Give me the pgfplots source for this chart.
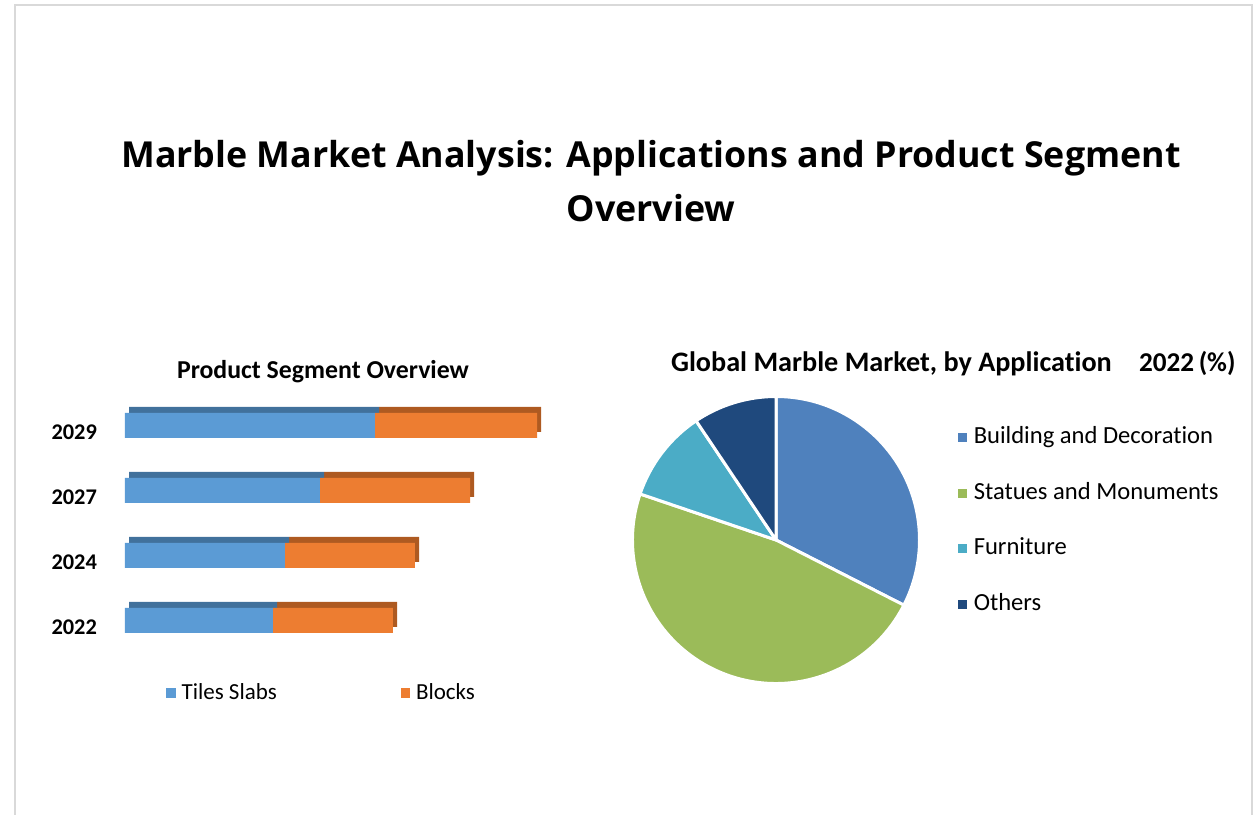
\documentclass[border=0pt]{standalone}
\usepackage{pgfplots}
\pgfplotsset{compat=1.18}
\usepackage{pgfplotstable}
\usepackage{fontspec}
\setmainfont[Ligatures=NoCommon]{Carlito}
\newfontfamily\titlefont[Ligatures=NoCommon]{Open Sans}

\definecolor{tiles}{HTML}{5B9BD5}
\definecolor{tilesdark}{HTML}{41719C}
\definecolor{blocks}{HTML}{ED7D31}
\definecolor{blocksdark}{HTML}{AE5A21}
\definecolor{building}{HTML}{4F81BD}
\definecolor{statues}{HTML}{9BBB59}
\definecolor{furniture}{HTML}{4BACC6}
\definecolor{others}{HTML}{1F497D}
\definecolor{frame}{HTML}{D9D9D9}

% product segment (arbitrary units)
\pgfplotstableread{
pos year tiles blocks
0 2022 148 120
1 2024 160 130
2 2027 195 150
3 2029 250 162
}\segdata

% application shares 2022 (%)
\pgfplotstableread{
app share
Building 32.5
Statues 47.7
Furniture 10.4
Others 9.4
}\piedata

\begin{document}
\begin{tikzpicture}
\useasboundingbox (0,0) rectangle (627.5pt,407.5pt);
\draw[frame, line width=0.8pt] (7.5pt,-5pt) rectangle (626pt,405pt);

\node[anchor=base, font=\titlefont\bfseries\fontsize{17.9}{21}\selectfont] at (325.5pt,323.5pt)
  {Marble Market Analysis: Applications and Product Segment};
\node[anchor=base, font=\titlefont\bfseries\fontsize{17.9}{21}\selectfont] at (325.5pt,296.5pt)
  {Overview};

% 3D top/side faces behind the bars
\begin{axis}[
  at={(62.5pt,97.25pt)}, anchor=origin,
  x=0.5pt, y=32.5pt,
  xmin=0, xmax=450, ymin=-0.5, ymax=3.5,
  hide axis,
  xbar stacked, bar width=12.5pt, bar shift=3pt,
]
\addplot[draw=none, fill=none] table[x expr=4, y=pos] {\segdata};
\addplot[draw=none, fill=tilesdark] table[x=tiles, y=pos] {\segdata};
\addplot[draw=none, fill=blocksdark] table[x=blocks, y=pos] {\segdata};
\end{axis}

\begin{axis}[
  at={(62.5pt,97.25pt)}, anchor=origin,
  x=0.5pt, y=32.5pt,
  xmin=0, xmax=450, ymin=-0.5, ymax=3.5,
  axis line style={draw=none},
  xtick=\empty,
  ytick=data, yticklabels from table={\segdata}{year},
  major tick length=0pt,
  yticklabel style={font=\bfseries\fontsize{11.2}{13}\selectfont, anchor=east, xshift=-10.5pt, yshift=-3.5pt},
  xbar stacked, bar width=12.5pt, bar shift=0pt,
  title={\bfseries Product Segment Overview},
  title style={font=\fontsize{12.9}{15}\selectfont, at={(0.44,1)}, anchor=base, yshift=1pt},
  legend columns=2,
  legend style={at={(0.0911,-0.154)}, anchor=west, draw=none, fill=none,
    font=\fontsize{11.5}{13}\selectfont, inner sep=0pt,
    nodes={inner sep=0pt},
    column sep=3pt,
    /tikz/every even column/.append style={column sep=62pt}},
  legend image code/.code={\fill[#1] (0pt,-2.3pt) rectangle (4.6pt,2.3pt);},
]
\addplot[draw=none, fill=tiles] table[x=tiles, y=pos] {\segdata};
\addplot[draw=none, fill=blocks] table[x=blocks, y=pos] {\segdata};
\legend{Tiles Slabs, Blocks}
\end{axis}

% pie angles from the shares
\pgfplotstablegetelem{0}{share}\of\piedata \let\sA\pgfplotsretval
\pgfplotstablegetelem{1}{share}\of\piedata \let\sB\pgfplotsretval
\pgfplotstablegetelem{2}{share}\of\piedata \let\sC\pgfplotsretval
\pgfplotstablegetelem{3}{share}\of\piedata \let\sD\pgfplotsretval
\pgfmathsetmacro\aA{90-3.6*\sA}
\pgfmathsetmacro\aB{\aA-3.6*\sB}
\pgfmathsetmacro\aC{\aB-3.6*\sC}
\pgfmathsetmacro\aD{\aC-3.6*\sD}

\begin{axis}[
  at={(388pt,137.5pt)}, anchor=origin,
  x=71.75pt, y=71.75pt,
  xmin=-1, xmax=1, ymin=-1, ymax=1,
  hide axis, clip=false,
  legend style={at={(1.134,0.897)}, anchor=north west, draw=none, fill=none,
    font=\fontsize{12.3}{14}\selectfont, inner sep=0pt,
    nodes={inner sep=0pt, text height=8.5pt, text depth=2.5pt},
    column sep=3.3pt, row sep=16.85pt},
  legend cell align=left,
  legend image code/.code={\fill[#1] (0pt,-2pt) rectangle (4pt,2pt);},
]
\addlegendimage{building}\addlegendentry{Building and Decoration}
\addlegendimage{statues}\addlegendentry{Statues and Monuments}
\addlegendimage{furniture}\addlegendentry{Furniture}
\addlegendimage{others}\addlegendentry{Others}
\filldraw[fill=building, draw=white, line width=1.5pt, line join=round]
  (axis cs:0,0) -- ++(90:71.75pt) arc[start angle=90, end angle=\aA, radius=71.75pt] -- cycle;
\filldraw[fill=statues, draw=white, line width=1.5pt, line join=round]
  (axis cs:0,0) -- ++(\aA:71.75pt) arc[start angle=\aA, end angle=\aB, radius=71.75pt] -- cycle;
\filldraw[fill=furniture, draw=white, line width=1.5pt, line join=round]
  (axis cs:0,0) -- ++(\aB:71.75pt) arc[start angle=\aB, end angle=\aC, radius=71.75pt] -- cycle;
\filldraw[fill=others, draw=white, line width=1.5pt, line join=round]
  (axis cs:0,0) -- ++(\aC:71.75pt) arc[start angle=\aC, end angle=\aD, radius=71.75pt] -- cycle;
\end{axis}

\node[anchor=base west, font=\bfseries\fontsize{14.1}{16}\selectfont] at (332pt,221.5pt)
  {Global Marble Market, by Application};
\node[anchor=base west, font=\bfseries\fontsize{13.6}{16}\selectfont] at (566pt,221.5pt)
  {2022\,(\%)};
\end{tikzpicture}
\end{document}
